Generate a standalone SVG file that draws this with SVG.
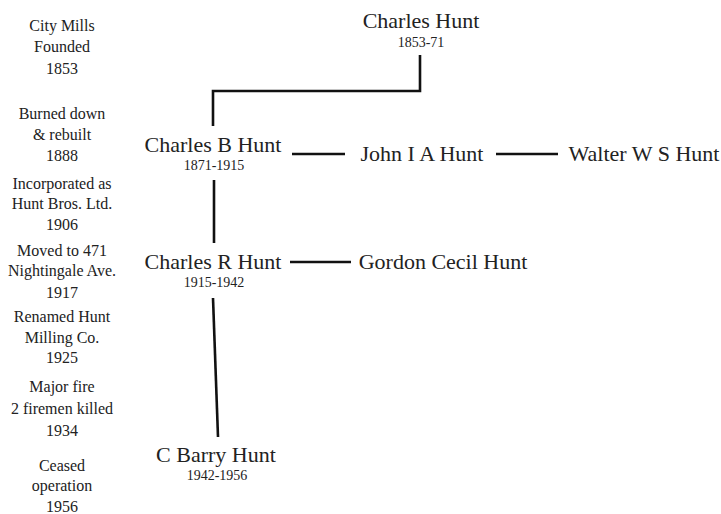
<svg xmlns="http://www.w3.org/2000/svg" width="721" height="514" viewBox="0 0 721 514">
<style>
text{font-family:"Liberation Serif","Times New Roman",serif;fill:#222;text-anchor:middle}
.ev{font-size:16px}
.nm{font-size:22px}
.dt{font-size:14px}
.ln{stroke:#111;stroke-width:2.6;fill:none}
</style>
<rect width="721" height="514" fill="#fff"/>
<g id="events">
<text class="ev" x="62" y="31">City Mills</text>
<text class="ev" x="62" y="52">Founded</text>
<text class="ev" x="62" y="74">1853</text>
<text class="ev" x="62" y="119">Burned down</text>
<text class="ev" x="62" y="140">&amp; rebuilt</text>
<text class="ev" x="62" y="161">1888</text>
<text class="ev" x="62" y="189">Incorporated as</text>
<text class="ev" x="62" y="209">Hunt Bros. Ltd.</text>
<text class="ev" x="62" y="230">1906</text>
<text class="ev" x="62" y="256">Moved to 471</text>
<text class="ev" x="62" y="276">Nightingale Ave.</text>
<text class="ev" x="62" y="298">1917</text>
<text class="ev" x="62" y="322">Renamed Hunt</text>
<text class="ev" x="62" y="343">Milling Co.</text>
<text class="ev" x="62" y="363">1925</text>
<text class="ev" x="62" y="392">Major fire</text>
<text class="ev" x="62" y="414">2 firemen killed</text>
<text class="ev" x="62" y="436">1934</text>
<text class="ev" x="62" y="471">Ceased</text>
<text class="ev" x="62" y="491">operation</text>
<text class="ev" x="62" y="512">1956</text>
</g>
<g id="charles-hunt">
<text class="nm" x="421" y="28">Charles Hunt</text>
<text class="dt" x="421" y="47">1853-71</text>
</g>
<g id="charles-b-hunt">
<text class="nm" x="213" y="152">Charles B Hunt</text>
<text class="dt" x="214" y="170">1871-1915</text>
</g>
<g id="john-i-a-hunt">
<text class="nm" x="422" y="161">John I A Hunt</text>
</g>
<g id="walter-w-s-hunt">
<text class="nm" x="644" y="161">Walter W S Hunt</text>
</g>
<g id="charles-r-hunt">
<text class="nm" x="213" y="269">Charles R Hunt</text>
<text class="dt" x="214" y="287">1915-1942</text>
</g>
<g id="gordon-cecil-hunt">
<text class="nm" x="443" y="269">Gordon Cecil Hunt</text>
</g>
<g id="c-barry-hunt">
<text class="nm" x="216" y="462">C Barry Hunt</text>
<text class="dt" x="217" y="480">1942-1956</text>
</g>
<g id="connectors">
<path class="ln" d="M420 55 V91 H213 V126"/>
<path class="ln" d="M292 154 H345"/>
<path class="ln" d="M496 154 H558"/>
<path class="ln" d="M214 180 V243"/>
<path class="ln" d="M290 262 H351"/>
<path class="ln" d="M213 298 L218 437"/>
</g>
</svg>
